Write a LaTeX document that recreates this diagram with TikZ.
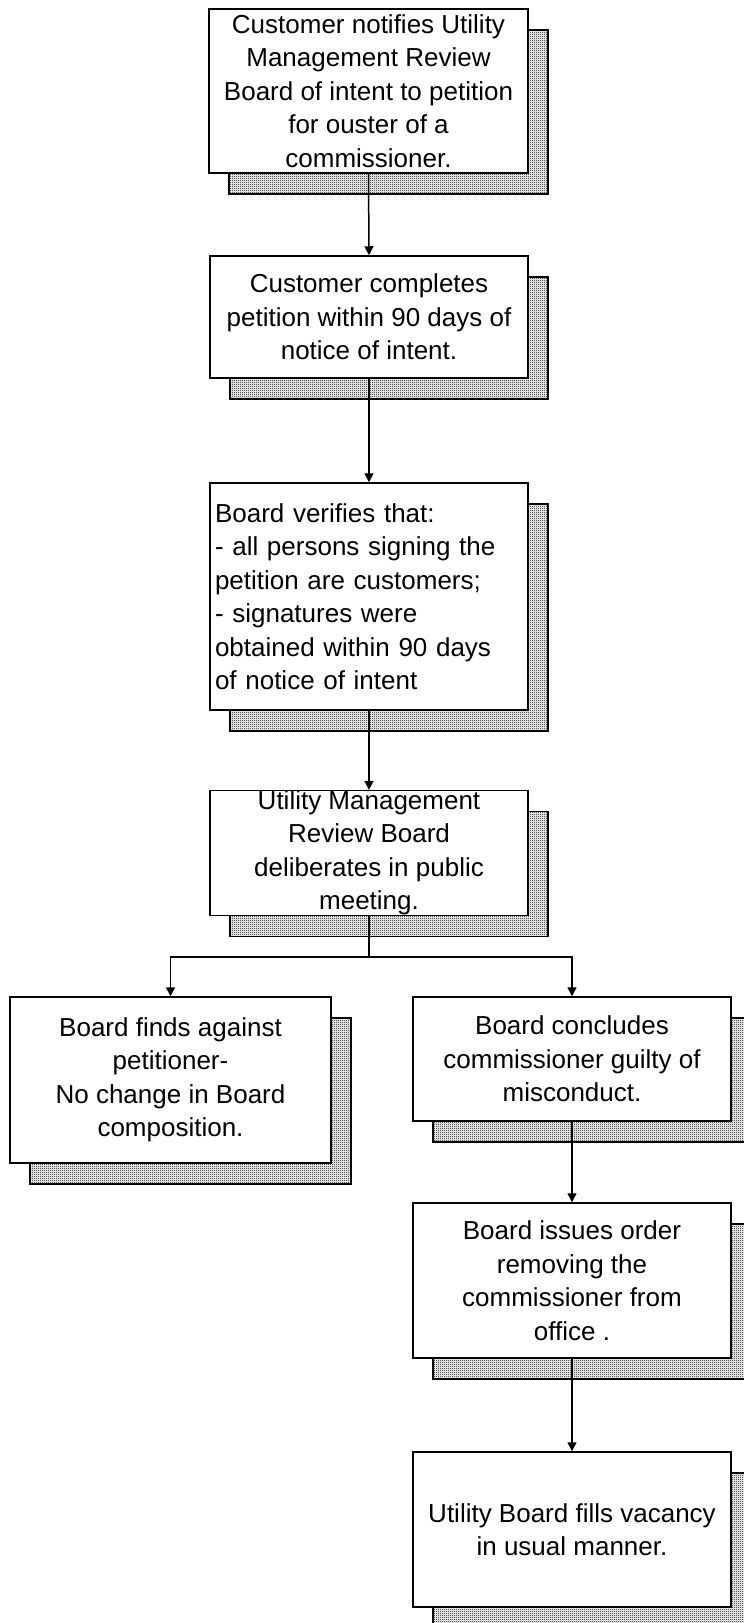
\documentclass[tikz,border=0pt]{standalone}
\usepackage{fontspec}
\setmainfont{Liberation Sans}
\usetikzlibrary{arrows.meta,shadows,patterns.meta}

% fine checkerboard used for the drop shadows
\pgfdeclarepattern{
  name=checker,
  type=uncolored,
  bottom left={\pgfpoint{0pt}{0pt}},
  top right={\pgfpoint{2pt}{2pt}},
  tile size={\pgfpoint{2pt}{2pt}},
  code={
    \pgfpathrectangle{\pgfpointorigin}{\pgfpoint{1pt}{1pt}}
    \pgfpathrectangle{\pgfpoint{1pt}{1pt}}{\pgfpoint{1pt}{1pt}}
    \pgfusepath{fill}
  }
}

\tikzset{
  stepbox/.style={
    draw=black, line width=1.5pt, fill=white,
    inner sep=0pt, align=center,
    font=\fontsize{26}{33.5}\selectfont,
    general shadow={shadow xshift=20pt, shadow yshift=-21pt,
      draw=black, line width=1.5pt, fill=gray!65,
      pattern={checker}, pattern color=black}
  },
  flow/.style={line width=1.5pt, draw=black,
    -{Triangle[length=9pt,width=9pt]}},
  plain/.style={line width=1.5pt, draw=black}
}

\begin{document}
\begin{tikzpicture}[x=1pt,y=-1pt]
\useasboundingbox (0,0) rectangle (744,1623);

\node[stepbox, minimum width=319pt, minimum height=164pt] (notify) at (368.5,91)
  {Customer notifies Utility\\Management Review\\Board of intent to petition\\for ouster of a\\commissioner.};

\node[stepbox, minimum width=318pt, minimum height=122pt] (complete) at (369,317)
  {Customer completes\\petition within 90 days of\\notice of intent.};

\node[stepbox, minimum height=227pt, text width=308pt, inner xsep=5pt, align=left] (verify) at (369,596.5)
  {Board verifies that:\\- all persons signing the\\petition are customers;\\- signatures were\\obtained within 90 days\\of notice of intent};

\node[stepbox, minimum width=318pt, minimum height=120pt] (deliberate) at (369,853)
  {Utility Management\\Review Board\\deliberates in public\\meeting.};

\node[stepbox, minimum width=321pt, minimum height=166pt] (against) at (170.5,1080)
  {Board finds against\\petitioner-\\No change in Board\\composition.};

\node[stepbox, minimum width=318pt, minimum height=124pt] (guilty) at (572,1059)
  {Board concludes\\commissioner guilty of\\misconduct.};

\node[stepbox, minimum width=318pt, minimum height=155pt] (remove) at (572,1280.5)
  {Board issues order\\removing the\\commissioner from\\office .};

\node[stepbox, minimum width=318pt, minimum height=155pt] (fill) at (572,1529.5)
  {Utility Board fills vacancy\\in usual manner.};

\coordinate (split) at (369,957);

\draw[flow] (notify.south) -- (complete.north);
\draw[flow] (complete.south) -- (verify.north);
\draw[flow] (verify.south) -- (deliberate.north);
\draw[plain] (deliberate.south) -- (split);
\draw[flow] (split) -| (against.north);
\draw[flow] (split) -| (guilty.north);
\draw[flow] (guilty.south) -- (remove.north);
\draw[flow] (remove.south) -- (fill.north);
\end{tikzpicture}
\end{document}
